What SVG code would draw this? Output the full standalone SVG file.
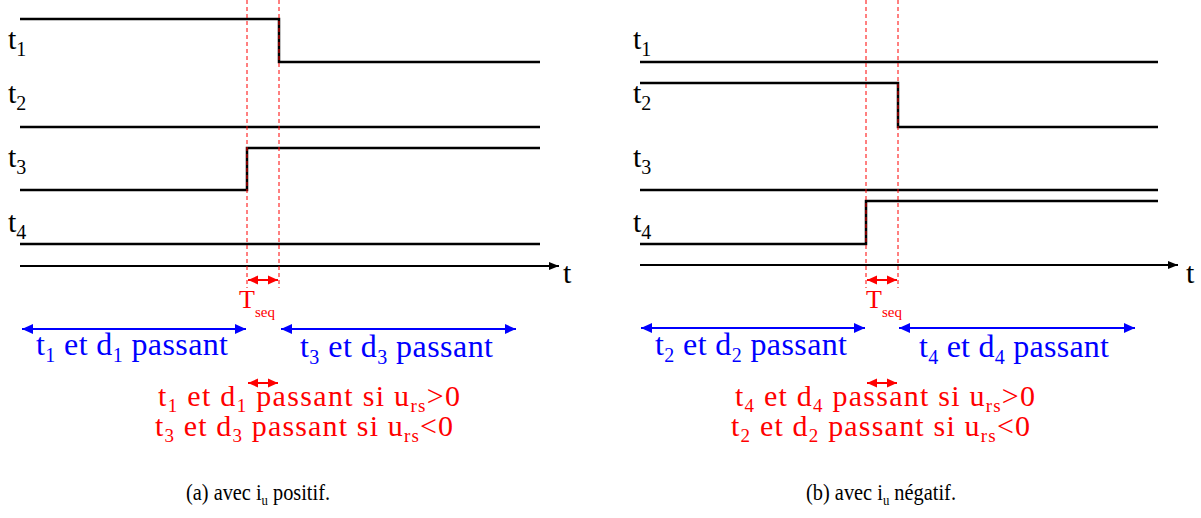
<svg xmlns="http://www.w3.org/2000/svg" width="1201" height="518" viewBox="0 0 1201 518">
<style>
text{font-family:'Liberation Serif','DejaVu Serif','Times New Roman',serif}
.sig{fill:none;stroke:#000;stroke-width:2.5;stroke-linejoin:miter}
.ax{fill:none;stroke:#000;stroke-width:2}
.dash{fill:none;stroke:#f00;stroke-width:1;stroke-dasharray:4 3}
.blue{fill:none;stroke:#00f;stroke-width:2}
.red{fill:none;stroke:#f00;stroke-width:2}
.lab{font-size:30px;fill:#000}
.bt{font-size:32px;fill:#00f}
.rt{font-size:30px;fill:#f00}
.ts{font-size:26px;fill:#f00}
.cap{font-size:24px;fill:#000}
</style>
<defs>
<marker id="ka" viewBox="0 0 10 10" refX="10" refY="5" markerWidth="10" markerHeight="10" markerUnits="userSpaceOnUse" orient="auto"><path d="M0,1 L10,5 L0,9 Z" fill="#000"/></marker>
<marker id="ba" viewBox="0 0 10 10" refX="10" refY="5" markerWidth="11" markerHeight="11" markerUnits="userSpaceOnUse" orient="auto-start-reverse"><path d="M0,0.5 L10,5 L0,9.5 Z" fill="#00f"/></marker>
<marker id="ra" viewBox="0 0 10 10" refX="10" refY="5" markerWidth="10" markerHeight="10" markerUnits="userSpaceOnUse" orient="auto-start-reverse"><path d="M0,0.5 L10,5 L0,9.5 Z" fill="#f00"/></marker>
</defs>

<g id="diagram-a">
  <g id="a-labels">
    <text class="lab" x="8" y="49">t<tspan font-size="20" dy="7">1</tspan></text>
    <text class="lab" x="8" y="103">t<tspan font-size="20" dy="7">2</tspan></text>
    <text class="lab" x="8" y="167">t<tspan font-size="20" dy="7">3</tspan></text>
    <text class="lab" x="8" y="232">t<tspan font-size="20" dy="7">4</tspan></text>
    <text class="lab" x="563" y="283">t</text>
  </g>
  <g id="a-signals">
    <path class="sig" d="M20,19 H279 V62 H540"/>
    <path class="sig" d="M20,127 H540"/>
    <path class="sig" d="M20,190 H247 V148 H540"/>
    <path class="sig" d="M20,244 H540"/>
    <path class="ax" d="M20,266 H559" marker-end="url(#ka)"/>
  </g>
  <g id="a-connectors">
    <path class="dash" d="M247,0 V288 M279,0 V288"/>
    <path class="red" d="M248,280 H278" marker-start="url(#ra)" marker-end="url(#ra)"/>
    <path class="blue" d="M22,329 H246" marker-start="url(#ba)" marker-end="url(#ba)"/>
    <path class="blue" d="M281,329 H516" marker-start="url(#ba)" marker-end="url(#ba)"/>
    <path class="red" d="M248,383 H278" marker-start="url(#ra)" marker-end="url(#ra)"/>
  </g>
  <g id="a-texts">
    <text class="ts" x="239" y="308">T<tspan font-size="15" dy="9">seq</tspan></text>
    <text class="bt" x="36" y="355" textLength="192" lengthAdjust="spacing">t<tspan font-size="20" dy="7">1</tspan><tspan dy="-7"> et d</tspan><tspan font-size="20" dy="7">1</tspan><tspan dy="-7"> passant</tspan></text>
    <text class="bt" x="300" y="357" textLength="193" lengthAdjust="spacing">t<tspan font-size="20" dy="7">3</tspan><tspan dy="-7"> et d</tspan><tspan font-size="20" dy="7">3</tspan><tspan dy="-7"> passant</tspan></text>
    <text class="rt" x="158" y="406" textLength="302" lengthAdjust="spacing">t<tspan font-size="19" dy="6">1</tspan><tspan dy="-6"> et d</tspan><tspan font-size="19" dy="6">1</tspan><tspan dy="-6"> passant si u</tspan><tspan font-size="19" dy="6">rs</tspan><tspan dy="-6">&gt;0</tspan></text>
    <text class="rt" x="155" y="436" textLength="298" lengthAdjust="spacing">t<tspan font-size="19" dy="6">3</tspan><tspan dy="-6"> et d</tspan><tspan font-size="19" dy="6">3</tspan><tspan dy="-6"> passant si u</tspan><tspan font-size="19" dy="6">rs</tspan><tspan dy="-6">&lt;0</tspan></text>
    <text class="cap" x="186" y="500" textLength="144" lengthAdjust="spacingAndGlyphs">(a) avec i<tspan font-size="15" dy="5">u</tspan><tspan dy="-5"> positif.</tspan></text>
  </g>
</g>

<g id="diagram-b">
  <g id="b-labels">
    <text class="lab" x="633" y="49">t<tspan font-size="20" dy="7">1</tspan></text>
    <text class="lab" x="633" y="103">t<tspan font-size="20" dy="7">2</tspan></text>
    <text class="lab" x="633" y="167">t<tspan font-size="20" dy="7">3</tspan></text>
    <text class="lab" x="633" y="232">t<tspan font-size="20" dy="7">4</tspan></text>
    <text class="lab" x="1186" y="283">t</text>
  </g>
  <g id="b-signals">
    <path class="sig" d="M640,62 H1158"/>
    <path class="sig" d="M640,83 H898 V127 H1158"/>
    <path class="sig" d="M640,190 H1158"/>
    <path class="sig" d="M640,244 H866 V201 H1158"/>
    <path class="ax" d="M640,265 H1178" marker-end="url(#ka)"/>
  </g>
  <g id="b-connectors">
    <path class="dash" d="M866,0 V288 M898,0 V288"/>
    <path class="red" d="M867,280 H897" marker-start="url(#ra)" marker-end="url(#ra)"/>
    <path class="blue" d="M641,328 H865" marker-start="url(#ba)" marker-end="url(#ba)"/>
    <path class="blue" d="M899,328 H1135" marker-start="url(#ba)" marker-end="url(#ba)"/>
    <path class="red" d="M867,383 H897" marker-start="url(#ra)" marker-end="url(#ra)"/>
  </g>
  <g id="b-texts">
    <text class="ts" x="866" y="308">T<tspan font-size="15" dy="9">seq</tspan></text>
    <text class="bt" x="655" y="355" textLength="192" lengthAdjust="spacing">t<tspan font-size="20" dy="7">2</tspan><tspan dy="-7"> et d</tspan><tspan font-size="20" dy="7">2</tspan><tspan dy="-7"> passant</tspan></text>
    <text class="bt" x="919" y="357" textLength="190" lengthAdjust="spacing">t<tspan font-size="20" dy="7">4</tspan><tspan dy="-7"> et d</tspan><tspan font-size="20" dy="7">4</tspan><tspan dy="-7"> passant</tspan></text>
    <text class="rt" x="735" y="406" textLength="300" lengthAdjust="spacing">t<tspan font-size="19" dy="6">4</tspan><tspan dy="-6"> et d</tspan><tspan font-size="19" dy="6">4</tspan><tspan dy="-6"> passant si u</tspan><tspan font-size="19" dy="6">rs</tspan><tspan dy="-6">&gt;0</tspan></text>
    <text class="rt" x="731" y="436" textLength="299" lengthAdjust="spacing">t<tspan font-size="19" dy="6">2</tspan><tspan dy="-6"> et d</tspan><tspan font-size="19" dy="6">2</tspan><tspan dy="-6"> passant si u</tspan><tspan font-size="19" dy="6">rs</tspan><tspan dy="-6">&lt;0</tspan></text>
    <text class="cap" x="806" y="500" textLength="150" lengthAdjust="spacingAndGlyphs">(b) avec i<tspan font-size="15" dy="5">u</tspan><tspan dy="-5"> négatif.</tspan></text>
  </g>
</g>
</svg>
